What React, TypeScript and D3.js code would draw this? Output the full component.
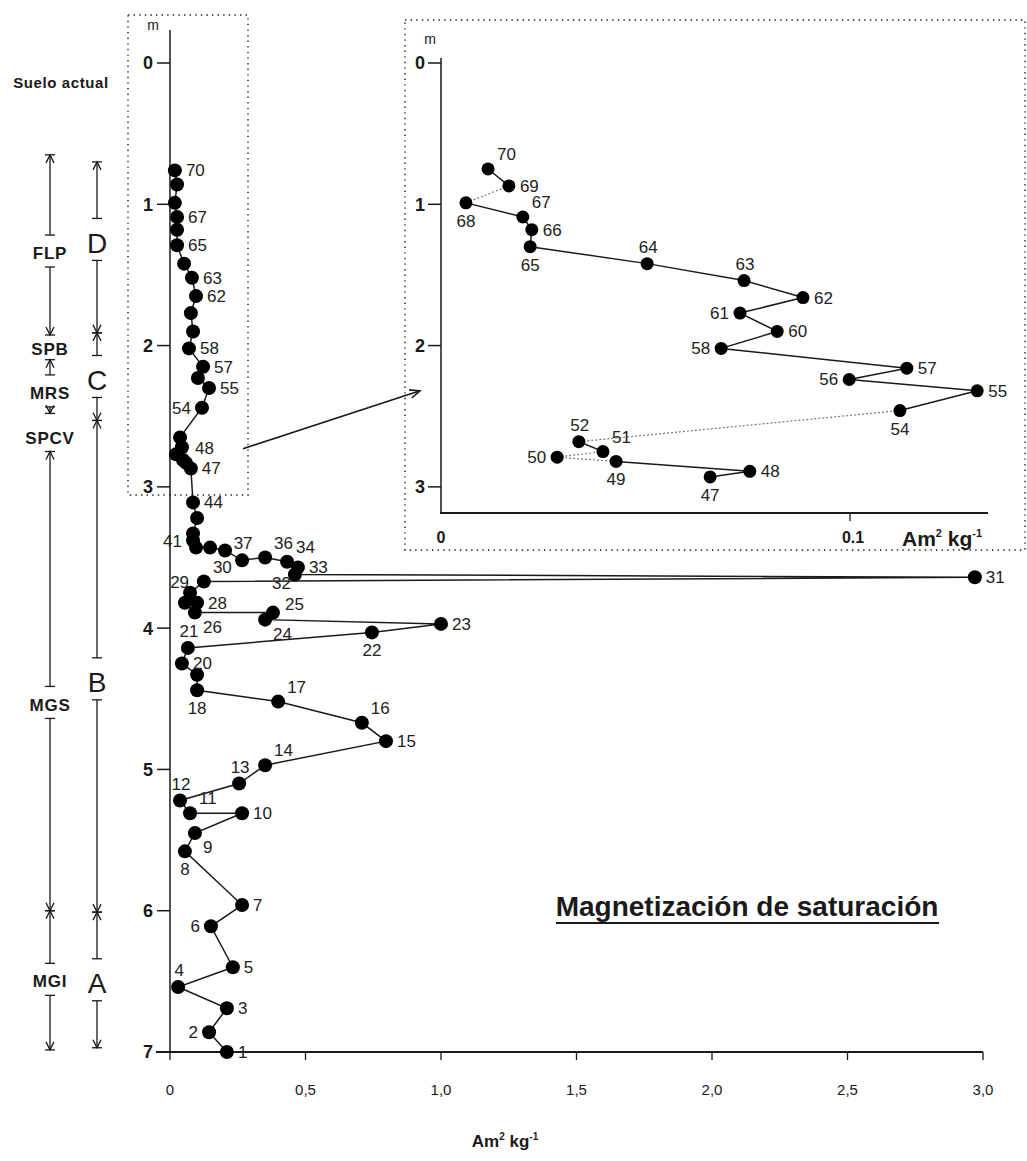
import React from "react";
import * as d3 from "d3";

// sample numbers, depth (m) and saturation magnetization (Am2/kg)
const mainIds = [70, 69, 68, 67, 66, 65, 64, 63, 62, 61, 60, 58, 57, 56, 55, 54, 52, 51, 50, 49, 48, 47, 44, 43, 42, 41, 40, 39, 38, 37, 36, 34, 33, 32, 31, 30, 29, 28, 27, 26, 25, 24, 23, 22, 21, 20, 19, 18, 17, 16, 15, 14, 13, 12, 11, 10, 9, 8, 7, 6, 5, 4, 3, 2, 1];
const mainDepth = [0.76, 0.86, 0.99, 1.09, 1.18, 1.29, 1.42, 1.52, 1.65, 1.77, 1.9, 2.02, 2.15, 2.23, 2.3, 2.44, 2.65, 2.72, 2.77, 2.81, 2.83, 2.87, 3.11, 3.22, 3.33, 3.38, 3.43, 3.43, 3.45, 3.52, 3.5, 3.53, 3.57, 3.62, 3.64, 3.67, 3.75, 3.82, 3.82, 3.89, 3.89, 3.94, 3.97, 4.03, 4.14, 4.25, 4.33, 4.44, 4.52, 4.67, 4.8, 4.97, 5.1, 5.22, 5.31, 5.31, 5.45, 5.58, 5.96, 6.11, 6.4, 6.54, 6.69, 6.86, 7.0];
const mainValue = [0.018, 0.026, 0.018, 0.026, 0.026, 0.026, 0.052, 0.081, 0.096, 0.077, 0.085, 0.07, 0.122, 0.103, 0.144, 0.118, 0.037, 0.044, 0.022, 0.048, 0.059, 0.077, 0.085, 0.1, 0.085, 0.085, 0.096, 0.148, 0.203, 0.266, 0.351, 0.432, 0.472, 0.461, 2.97, 0.125, 0.074, 0.1, 0.055, 0.092, 0.38, 0.351, 1.0, 0.745, 0.066, 0.044, 0.1, 0.1, 0.399, 0.708, 0.797, 0.351, 0.255, 0.037, 0.074, 0.266, 0.092, 0.055, 0.266, 0.151, 0.232, 0.03, 0.21, 0.144, 0.21];

// upper 3 m enlarged
const insetIds = [70, 69, 68, 67, 66, 65, 64, 63, 62, 61, 60, 58, 57, 56, 55, 54, 52, 51, 50, 49, 48, 47];
const insetDepth = [0.75, 0.87, 0.99, 1.09, 1.18, 1.3, 1.42, 1.54, 1.66, 1.77, 1.9, 2.02, 2.16, 2.24, 2.32, 2.46, 2.68, 2.75, 2.79, 2.82, 2.89, 2.93];
const insetValue = [0.0115, 0.0166, 0.0061, 0.02, 0.0222, 0.0218, 0.0504, 0.0741, 0.0885, 0.0731, 0.0822, 0.0685, 0.1139, 0.0998, 0.1311, 0.1122, 0.0337, 0.0396, 0.0284, 0.0428, 0.0755, 0.0658];
const dottedFrom = [69, 54, 51, 50];

const depthTicks = [0, 1, 2, 3, 4, 5, 6, 7];
const insetDepthTicks = [0, 1, 2, 3];
const xTicks = [0, 0.5, 1, 1.5, 2, 2.5, 3];
const xTickLabels = ["0", "0,5", "1,0", "1,5", "2,0", "2,5", "3,0"];

// stratigraphic units (depth in m)
const unitNames = ["FLP", "SPB", "MRS", "SPCV", "MGS", "MGI"];
const unitTop = [0.65, 1.925, 2.1, 2.48, 2.75, 6.0];
const unitBottom = [1.925, 2.1, 2.48, 2.75, 6.0, 6.985];
const unitLabelAt = [1.345, 2.02, 2.335, 2.65, 4.54, 6.5];
const unitArrows = [true, false, true, false, true, true];

const zoneNames = ["D", "C", "B", "A"];
const zoneTop = [0.7, 1.91, 2.53, 6.01];
const zoneBottom = [1.91, 2.53, 6.01, 6.97];
const zoneLabelAt = [1.27, 2.24, 4.38, 6.51];

const mainLabelPlace: Record<number, string> = { 70: "r", 67: "r", 65: "r", 63: "r", 62: "r", 58: "r", 57: "r", 55: "r", 54: "l", 48: "ar", 47: "r", 44: "r", 41: "l", 37: "a", 36: "ar", 34: "ar", 33: "r", 32: "bl2", 31: "r", 30: "ar", 29: "al2", 28: "r", 26: "br", 25: "ur", 24: "br", 23: "r", 22: "b", 21: "a", 20: "r", 18: "b", 17: "ar", 16: "ar", 15: "r", 14: "ar", 13: "a", 12: "a", 11: "ar", 10: "r", 9: "br", 8: "b", 7: "r", 6: "l", 5: "r", 4: "a", 3: "r", 2: "l", 1: "r" };
const insetLabelPlace: Record<number, string> = { 70: "ar", 69: "r", 68: "b", 67: "ar", 66: "r", 65: "b", 64: "a", 63: "a", 62: "r", 61: "l", 60: "r", 58: "l", 57: "r", 56: "l", 55: "r", 54: "b", 52: "a", 51: "ar", 50: "l", 49: "b", 48: "r", 47: "b" };

const offsets: Record<string, [number, number, string]> = {
  r: [11, 6, "start"],
  l: [-11, 6, "end"],
  a: [1, -11, "middle"],
  b: [0, 24, "middle"],
  ar: [9, -9, "start"],
  al2: [-1, -5, "end"],
  ur: [12, -3, "start"],
  br: [8, 20, "start"],
  bl2: [-4, 15, "end"],
};

const FONT = "'Liberation Sans', Arial, sans-serif";
const INK = "#1a1a1a";

const x = d3.scaleLinear().domain([0, 3]).range([170, 983]);
const y = d3.scaleLinear().domain([0, 7]).range([63, 1052]);
const xi = d3.scaleLinear().domain([0, 0.1]).range([441, 850]);

const Arrow = ({ cx, tip, dir }: { cx: number; tip: number; dir: number }) => (
  <g stroke={INK} strokeWidth={1.3} fill="none">
    <path d={`M${cx - 4},${tip + dir * 8}L${cx},${tip}L${cx + 4},${tip + dir * 8}`} />
    <line x1={cx - 5} x2={cx + 5} y1={tip} y2={tip} />
  </g>
);

const Bracket = ({ cx, top, bottom, at, name, arrows, gapA, gapB, size, weight, spacing }: any) => {
  const t = y(top), b = y(bottom), l = y(at);
  return (
    <g>
      {arrows && (
        <g stroke={INK} strokeWidth={1.3}>
          <line x1={cx} x2={cx} y1={t} y2={l - gapA} />
          <line x1={cx - 5} x2={cx + 5} y1={l - gapA} y2={l - gapA} />
          <line x1={cx} x2={cx} y1={l + gapB} y2={b} />
          <line x1={cx - 5} x2={cx + 5} y1={l + gapB} y2={l + gapB} />
        </g>
      )}
      {arrows && <Arrow cx={cx} tip={t} dir={1} />}
      {arrows && <Arrow cx={cx} tip={b} dir={-1} />}
      <text x={cx} y={l} dy="0.36em" textAnchor="middle" fontSize={size} fontWeight={weight} letterSpacing={spacing} fill={INK}>
        {name}
      </text>
    </g>
  );
};

const PointLabels = ({ ids, sx, depth, value, place, size }: any) => (
  <g fontSize={size} fill="#222">
    {ids.map((id: number, i: number) => {
      const p = place[id];
      if (!p) return null;
      const [dx, dy, anchor] = offsets[p];
      return (
        <text key={id} x={sx(value[i]) + dx} y={y(depth[i]) + dy} textAnchor={anchor}>
          {id}
        </text>
      );
    })}
  </g>
);

export default function App() {
  const mainPts = mainIds.map((id, i) => [x(mainValue[i]), y(mainDepth[i])] as [number, number]);
  const insetPts = insetIds.map((id, i) => [xi(insetValue[i]), y(insetDepth[i])] as [number, number]);
  const line = d3.line();

  const ax0 = 243, ay0 = y(2.73), ax1 = 420, ay1 = y(2.32);
  const ang = Math.atan2(ay1 - ay0, ax1 - ax0);
  const ah = (s: number) => [ax1 - 11 * Math.cos(ang + s * 0.4), ay1 - 11 * Math.sin(ang + s * 0.4)];

  return (
    <svg width={1027} height={1161} viewBox="0 0 1027 1161" style={{ position: "absolute", left: 0, top: 0, background: "#fff" }} fontFamily={FONT}>
      {/* dotted frames */}
      <g fill="none" stroke="#555" strokeWidth={1.8} strokeDasharray="1.4 4.2">
        <rect x={128} y={15} width={120} height={480} />
        <rect x={405} y={20} width={620} height={530} />
      </g>

      {/* arrow from main frame to inset */}
      <g stroke={INK} strokeWidth={1.6} fill="none">
        <line x1={ax0} y1={ay0} x2={ax1} y2={ay1} />
        <path d={`M${ah(1).join(",")}L${ax1},${ay1}L${ah(-1).join(",")}`} />
      </g>

      {/* left annotations */}
      <text x={61} y={83} dy="0.36em" textAnchor="middle" fontSize={15} fontWeight="bold" letterSpacing={0.6} fill={INK}>
        Suelo actual
      </text>
      {unitNames.map((n, i) => (
        <Bracket key={n} cx={50} top={unitTop[i]} bottom={unitBottom[i]} at={unitLabelAt[i]} name={n} arrows={unitArrows[i]} gapA={18} gapB={14} size={17} weight="bold" spacing={0.8} />
      ))}
      {zoneNames.map((n, i) => (
        <Bracket key={n} cx={97} top={zoneTop[i]} bottom={zoneBottom[i]} at={zoneLabelAt[i]} name={n} arrows={true} gapA={24} gapB={18} size={28} weight="normal" spacing={0} />
      ))}

      {/* main axes */}
      <g stroke={INK}>
        <line x1={170} x2={170} y1={30} y2={y(7)} strokeWidth={1.5} />
        <line x1={156} x2={x(3)} y1={y(7)} y2={y(7)} strokeWidth={2} />
        {depthTicks.map((d) => (
          <line key={d} x1={157} x2={170} y1={y(d)} y2={y(d)} strokeWidth={1.5} />
        ))}
        {xTicks.map((t) => (
          <line key={t} x1={x(t)} x2={x(t)} y1={y(7)} y2={y(7) + 8} strokeWidth={1.3} />
        ))}
      </g>
      <text x={153} y={30} textAnchor="middle" fontSize={14} fill={INK}>m</text>
      <g fontSize={18} fontWeight="bold" fill={INK} textAnchor="end">
        {depthTicks.map((d) => (
          <text key={d} x={153} y={y(d)} dy="0.36em">{d}</text>
        ))}
      </g>
      <g fontSize={15} fill={INK} textAnchor="middle">
        {xTicks.map((t, i) => (
          <text key={t} x={x(t)} y={1095}>{xTickLabels[i]}</text>
        ))}
      </g>
      <text x={505} y={1147} textAnchor="middle" fontSize={17} fontWeight="bold" fill={INK}>
        Am<tspan fontSize={10} dy={-7}>2</tspan>
        <tspan dy={7}> kg</tspan>
        <tspan fontSize={10} dy={-7}>-1</tspan>
      </text>

      {/* main profile */}
      <path d={line(mainPts) || ""} fill="none" stroke={INK} strokeWidth={1.5} />
      <g fill="#000">
        {mainPts.map((p, i) => (
          <circle key={mainIds[i]} cx={p[0]} cy={p[1]} r={7} />
        ))}
      </g>
      <PointLabels ids={mainIds} sx={x} depth={mainDepth} value={mainValue} place={mainLabelPlace} size={17} />

      {/* inset axes */}
      <g stroke={INK}>
        <line x1={441} x2={441} y1={58} y2={513} strokeWidth={1.5} />
        <line x1={440} x2={988} y1={513} y2={513} strokeWidth={2} />
        {insetDepthTicks.map((d) => (
          <line key={d} x1={428} x2={441} y1={y(d)} y2={y(d)} strokeWidth={1.5} />
        ))}
        <line x1={xi(0.1)} x2={xi(0.1)} y1={513} y2={521} strokeWidth={1.3} />
      </g>
      <text x={430} y={44} textAnchor="middle" fontSize={14} fill={INK}>m</text>
      <g fontSize={18} fontWeight="bold" fill={INK} textAnchor="end">
        {insetDepthTicks.map((d) => (
          <text key={d} x={425} y={y(d)} dy="0.36em">{d}</text>
        ))}
      </g>
      <text x={xi(0)} y={543} textAnchor="middle" fontSize={16} fontWeight="bold" fill={INK}>0</text>
      <text x={xi(0.1) + 3} y={543} textAnchor="middle" fontSize={16} fontWeight="bold" fill={INK}>0.1</text>
      <text x={902} y={546} fontSize={21} fontWeight="bold" fill={INK}>
        Am<tspan fontSize={11} dy={-9}>2</tspan>
        <tspan dy={9}> kg</tspan>
        <tspan fontSize={11} dy={-9}>-1</tspan>
      </text>

      {/* inset profile */}
      <g fill="none">
        {insetPts.slice(1).map((p, k) => {
          const dotted = dottedFrom.includes(insetIds[k]);
          return (
            <line
              key={k}
              x1={insetPts[k][0]}
              y1={insetPts[k][1]}
              x2={p[0]}
              y2={p[1]}
              stroke={dotted ? "#777" : INK}
              strokeWidth={dotted ? 1.2 : 1.5}
              strokeDasharray={dotted ? "2 2" : undefined}
            />
          );
        })}
      </g>
      <g fill="#000">
        {insetPts.map((p, i) => (
          <circle key={insetIds[i]} cx={p[0]} cy={p[1]} r={6.5} />
        ))}
      </g>
      <PointLabels ids={insetIds} sx={xi} depth={insetDepth} value={insetValue} place={insetLabelPlace} size={17} />

      {/* title */}
      <text x={747} y={916} textAnchor="middle" fontSize={28} fontWeight="bold" fill={INK}>
        Magnetización de saturación
      </text>
      <line x1={556} x2={939} y1={923} y2={923} stroke={INK} strokeWidth={1.8} />
    </svg>
  );
}
